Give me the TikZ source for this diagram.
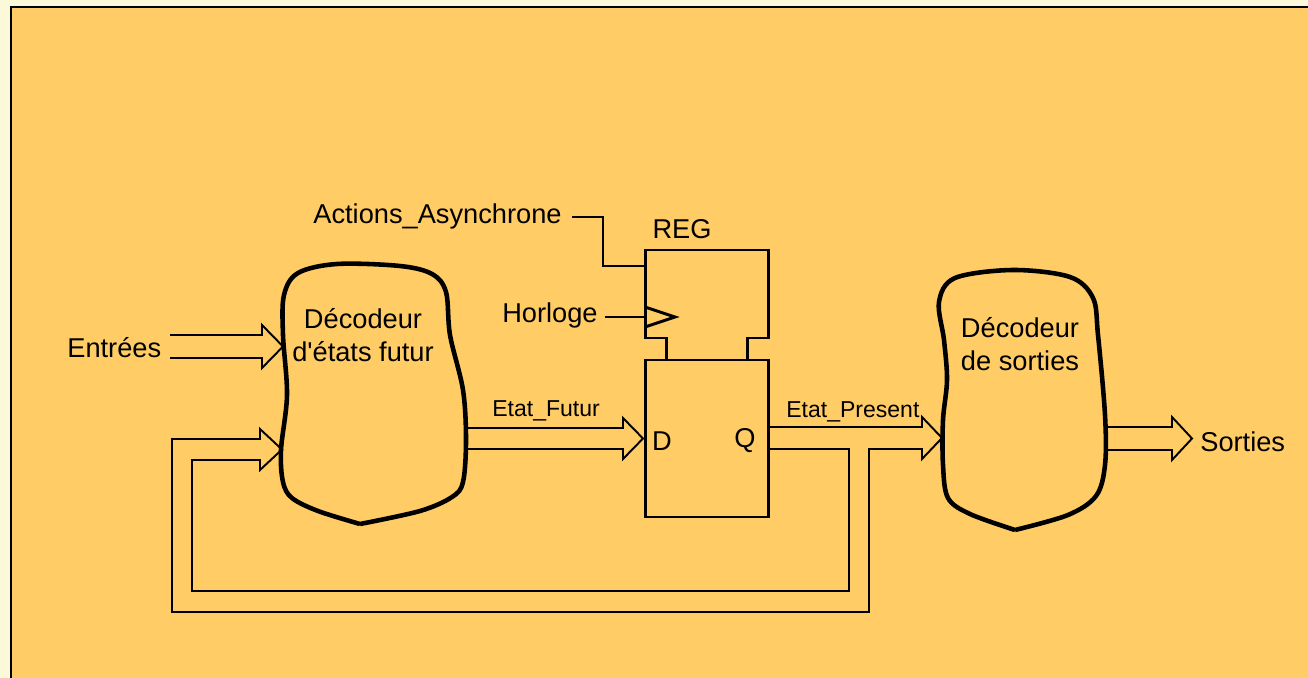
\documentclass[tikz,border=0pt]{standalone}
\usepackage{fontspec}
\setmainfont{Liberation Sans}
\definecolor{bgcream}{HTML}{FCF8DA}
\definecolor{bgorange}{HTML}{FFCC66}
\newcommand{\dblarrow}[5]{% #1 start x, #2 head x, #3 tip x, #4 upper y, #5 lower y
  \draw[wire] (#1,#4) -- (#2,#4) -- (#2,{#4-10}) -- (#3,{(#4+#5)/2}) -- (#2,{#5+10}) -- (#2,#5) -- (#1,#5);}
\begin{document}
\begin{tikzpicture}[x=0.02cm,y=-0.02cm,
  wire/.style={line width=1.1pt, line join=miter},
  boxline/.style={line width=1.7pt, line join=miter},
  blob/.style={line width=2.6pt, line join=round},
  big/.style={font=\fontsize{15.5}{18.8}\selectfont, inner sep=0pt},
  lbl/.style={font=\fontsize{13.1}{15}\selectfont, inner sep=0pt}]
\useasboundingbox (0,0) rectangle (1308,678);
\fill[bgcream] (0,0) rectangle (1308,678);
\fill[bgorange] (11,7) rectangle (1308,678);
\draw[line width=1.2pt] (11,678) -- (11,7) -- (1308,7);

% decoder 1
\draw[blob] plot[smooth, tension=0.55] coordinates {(360,524) (318,511) (292,498) (283,482) (281,450) (287,395) (283,335) (284,295) (298,273) (337,264) (400,266) (432,274) (446,292) (450,335) (463,390) (466,440) (463,482) (452,497) (420,511) (360,524)};
\node[big, align=center] (dec1) at (363,335) {Décodeur\\d\textquotesingle états futur};

% decoder 2
\draw[blob] plot[smooth, tension=0.55] coordinates {(1015,530) (970,514) (948,498) (943,465) (943,420) (947,380) (944,340) (939,302) (955,278) (1013,270) (1070,277) (1093,298) (1098,335) (1105,415) (1105,465) (1096,496) (1068,515) (1015,530)};
\node[big, align=center] (dec2) at (1020,344) {Décodeur\\de sorties};

% register
\draw[boxline] (666,360) -- (666,338) -- (645,338) -- (645,250) -- (768,250) -- (768,338) -- (747,338) -- (747,360);
\draw[boxline] (645,360) rectangle (768,517);
\draw[boxline] (645,307) -- (675,317) -- (645,327);
\node[big] (reg) at (682,229) {REG};
\node[big] (d) at (662,441) {D};
\node[big] (q) at (745,441) {Q};

% texts
\node[big, anchor=west] (entrees) at (67,348) {Entrées};
\node[big, anchor=west] (async) at (313,216) {Actions\_Asynchrone};
\node[big, anchor=east] (horloge) at (598,315) {Horloge};
\node[big, anchor=west] (sorties) at (1200,442) {Sorties};
\node[lbl, anchor=west] (futur) at (492,411) {Etat\_Futur};
\node[lbl, anchor=west] (present) at (786,412) {Etat\_Present};

% control wires
\draw[wire] (572,217) -- (603,217) -- (603,266) -- (645,266);
\draw[wire] (605,317) -- (645,317);

% bus arrows
\dblarrow{170}{262}{283}{335}{358}
\dblarrow{466}{623}{643}{428}{449}
\dblarrow{1106}{1172}{1192}{427}{450}

% Etat_Present with feedback loop
\draw[wire] (768,449) -- (849,449) -- (849,591) -- (192,591) -- (192,460) -- (260,460) -- (260,470) -- (282,449.5) -- (260,429) -- (260,439) -- (172,439) -- (172,612) -- (869,612) -- (869,449) -- (922,449) -- (922,459) -- (942,438) -- (922,417) -- (922,427) -- (768,427);
\end{tikzpicture}
\end{document}
